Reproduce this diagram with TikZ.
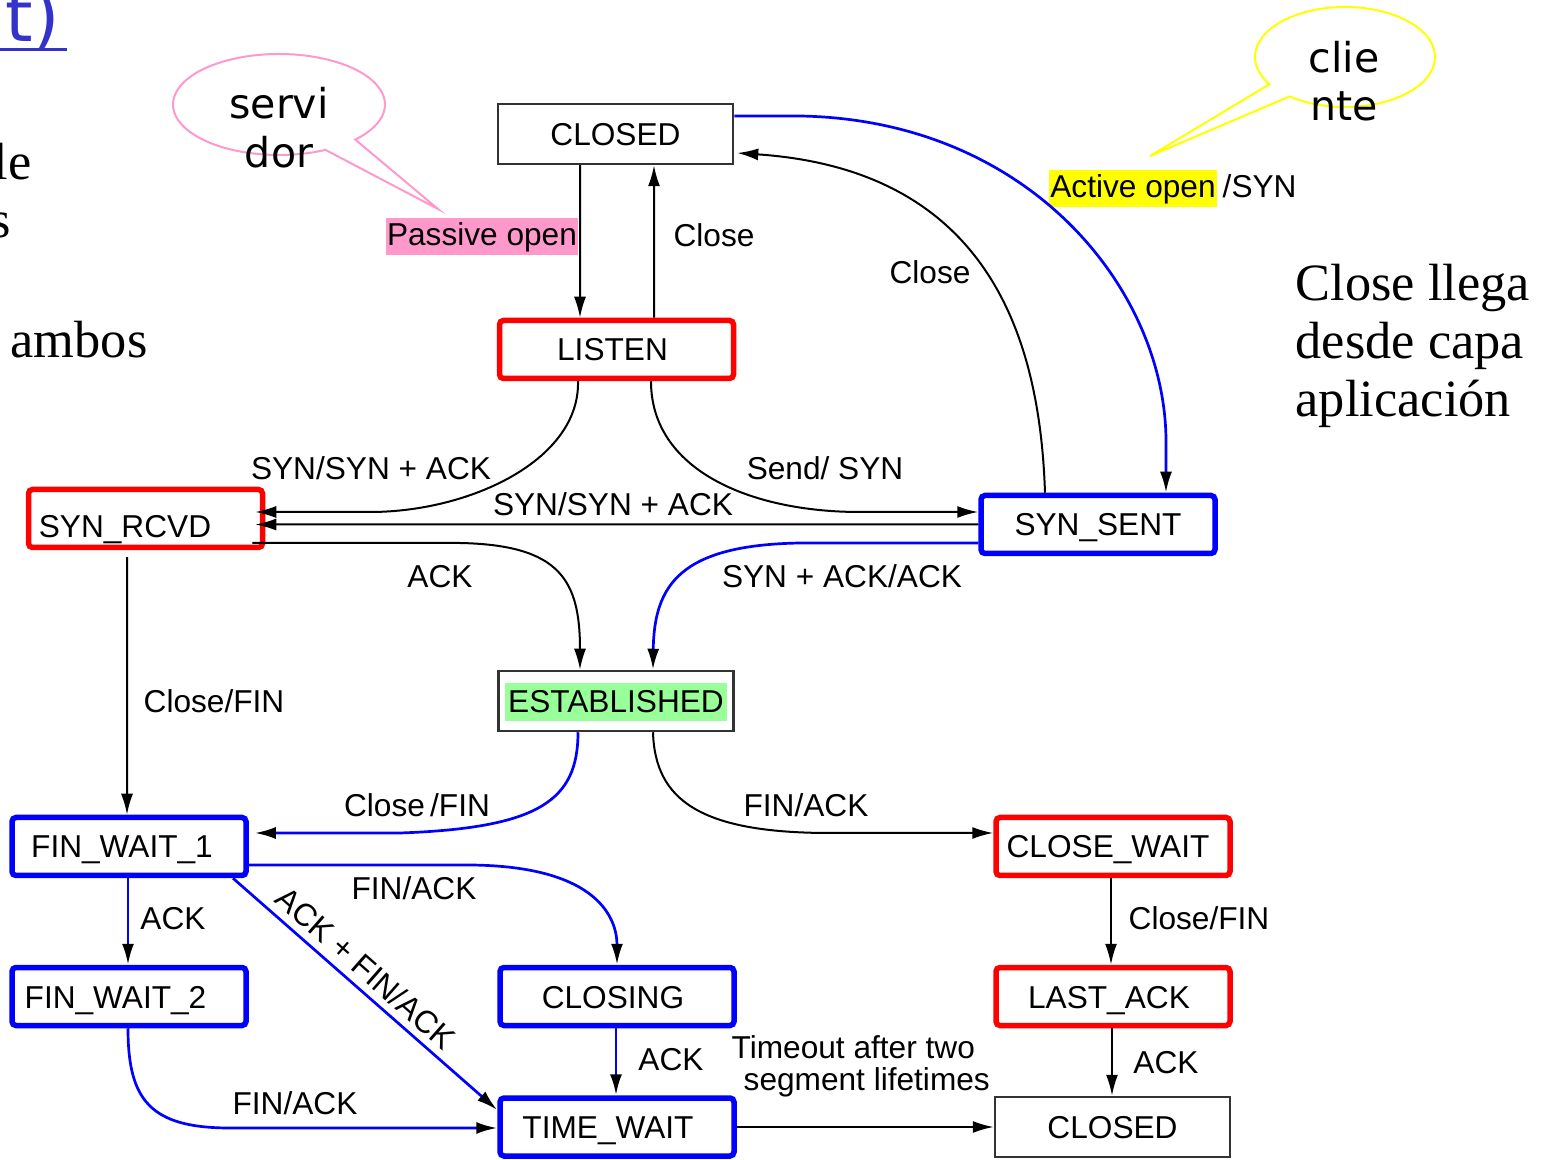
\documentclass[tikz,border=0pt]{standalone}
\usepackage{fontspec}
\setmainfont{Liberation Sans}
\newfontfamily\serifT{Liberation Serif}
\newfontfamily\bubbleT{DejaVu Sans}
\usetikzlibrary{arrows.meta}
\definecolor{stred}{RGB}{255,0,0}
\definecolor{stblue}{RGB}{0,0,255}
\definecolor{pinkbg}{RGB}{255,153,204}
\definecolor{yellowbg}{RGB}{255,255,0}
\definecolor{estgreen}{RGB}{153,255,153}
\definecolor{titleblue}{RGB}{51,51,204}
\newcommand{\pad}[1]{\rule{#1}{0pt}}

\begin{document}
\begin{tikzpicture}[x=0.1mm,y=-0.1mm,
	every node/.style={inner sep=0pt, font=\fontsize{9}{10.4}\selectfont},
	stbox/.style={draw, rectangle, text height=2.3mm, text depth=0mm},
	thinstate/.style={stbox, draw=black!80, line width=0.25mm, minimum width=23.5mm, minimum height=6mm},
	redstate/.style={stbox, draw=stred, line width=0.55mm, minimum width=23.4mm, minimum height=5.8mm, rounded corners=0.4mm},
	bluestate/.style={stbox, draw=stblue, line width=0.55mm, minimum width=23.4mm, minimum height=5.8mm, rounded corners=0.4mm},
	hl/.style={inner xsep=0.1mm, inner ysep=0.2mm, text height=2.55mm, text depth=0.75mm},
	lbl/.style={anchor=base},
	blk/.style={draw=black, line width=0.2mm, -{Latex[length=2.1mm,width=1.2mm]}},
	blu/.style={draw=stblue, line width=0.27mm, -{Latex[length=2.1mm,width=1.2mm,color=black]}}]
	\useasboundingbox (0,0) rectangle (1548,1160);
	
	%slide text
	\node[anchor=base east, text=titleblue, font=\bubbleT\fontsize{20}{24}\selectfont] (TTL) at (61,42) {t)};
	\draw[titleblue, line width=0.3mm] (0,50) -- (67,50);
	\node[anchor=base east, font=\serifT\fontsize{14.9}{16.6}\selectfont] (W1) at (32,180) {le};
	\node[anchor=base east, font=\serifT\fontsize{14.9}{16.6}\selectfont] (W2) at (12,238) {s};
	\node[anchor=base west, font=\serifT\fontsize{14.9}{16.6}\selectfont] (W3) at (10,358) {ambos};
	\node[anchor=north west, align=left, font=\serifT\fontsize{14.9}{16.6}\selectfont] (NOTE) at (1295,263) {Close llega\\desde capa\\aplicación};
	
	%bubbles
	\draw[pinkbg, line width=0.2mm] ([shift={(64:106 and 50.5)}]279,104.5) arc[start angle=64, end angle=404, x radius=106, y radius=50.5] -- (438,209) -- cycle;
	\node[anchor=north, align=center, font=\bubbleT\fontsize{11.7}{13.9}\selectfont] (SRV) at (279,87) {servi\\dor};
	\draw[yellowbg, line width=0.2mm] ([shift={(147:90 and 50)}]1345,57) arc[start angle=147, end angle=488, x radius=90, y radius=50] -- (1150,156) -- cycle;
	\node[anchor=north, align=center, font=\bubbleT\fontsize{11.7}{13.6}\selectfont] (CLI) at (1344,41) {clie\\nte};
	
	%states
	\node[thinstate] (CLOSEDa) at (615.5,134) {CLOSED};
	\node[redstate] (LISTEN) at (616.5,349.5) {LISTEN\pad{0.8mm}};
	\node[redstate] (SRCVD) at (145.5,518.5) {\raisebox{-0.75mm}{SYN\_RCVD}\pad{4.1mm}};
	\node[bluestate] (SSENT) at (1098,524.5) {SYN\_SENT};
	\node[thinstate] (EST) at (616,701) {\setlength{\fboxsep}{0.3mm}\colorbox{estgreen}{\rule[-0.6mm]{0pt}{3.2mm}ESTABLISHED}};
	\node[bluestate] (FWa) at (129,846.5) {FIN\_WAIT\_1\pad{1.4mm}};
	\node[redstate] (CW) at (1113,846.5) {CLOSE\_WAIT\pad{1mm}};
	\node[bluestate] (FWb) at (129,996.5) {FIN\_WAIT\_2\pad{2.7mm}};
	\node[bluestate] (CLSG) at (617,996.5) {CLOSING\pad{0.8mm}};
	\node[redstate] (LA) at (1113,996.5) {LAST\_ACK\pad{0.8mm}};
	\node[bluestate] (TW) at (617,1127) {TIME\_WAIT\pad{1.8mm}};
	\node[thinstate] (CLOSEDb) at (1112.5,1127) {CLOSED};
	
	%labels
	\node[hl, fill=pinkbg] (PASSIVE) at (482,236.5) {Passive open};
	\node[hl, fill=yellowbg] (ACTIVE) at (1133,188.5) {Active open};
	\node[anchor=base west] (T0) at (1222,198) {/SYN};
	\node[lbl] (T1) at (714,247) {Close};
	\node[lbl] (T2) at (930,284) {Close};
	\node[lbl] (T3) at (371,480) {SYN/SYN + ACK};
	\node[lbl] (T4) at (825,480) {Send/ SYN};
	\node[lbl] (T5) at (613,516) {SYN/SYN + ACK};
	\node[lbl] (T6) at (440,588) {ACK};
	\node[lbl] (T7) at (842,588) {SYN + ACK/ACK};
	\node[lbl] (T8) at (214,712) {Close/FIN};
	\node[lbl] (T9) at (417,817) {Close\,/FIN};
	\node[lbl] (T10) at (806,817) {FIN/ACK};
	\node[lbl] (T11) at (414,900) {FIN/ACK};
	\node[lbl] (T12) at (173,930) {ACK};
	\node[lbl] (T13) at (1199,930) {Close/FIN};
	\node[rotate=-41.3] (T14) at (366,968) {ACK + FIN/ACK};
	\node[lbl] (T15) at (671,1070) {ACK};
	\node[anchor=north west, align=left, font=\fontsize{9}{9.1}\selectfont] (T16) at (731,1035) {Timeout after two\\\hspace{1.2mm}segment lifetimes};
	\node[lbl] (T17) at (1166,1073) {ACK};
	\node[lbl] (T18) at (295,1114) {FIN/ACK};
	
	%transitions
	\draw[blk] ([xshift=-3.55mm]CLOSEDa.south) -- ([xshift=-3.65mm]LISTEN.north);
	\draw[blk] ([xshift=3.75mm]LISTEN.north) -- ([xshift=3.85mm]CLOSEDa.south);
	\draw[blu] ([yshift=1.8mm]CLOSEDa.east) -- (800,116) .. controls (1030,120) and (1165,290) .. (1166,440) -- ([xshift=6.8mm]SSENT.north);
	\draw[blk] ([xshift=-5.3mm]SSENT.north) .. controls (1040,340) and (990,170) .. ([xshift=0.3mm,yshift=-1.9mm]CLOSEDa.east);
	\draw[blk] ([xshift=-3.85mm]LISTEN.south) .. controls (580,460) and (470,512) .. (370,512) -- ([xshift=-1mm,yshift=0.65mm]SRCVD.east);
	\draw[blk] ([xshift=3.45mm]LISTEN.south) .. controls (651,470) and (750,512) .. (860,512) -- ([yshift=1.25mm]SSENT.west);
	\draw[blk] (SSENT.west) -- ([xshift=-1mm,yshift=-0.6mm]SRCVD.east);
	\draw[blk] ([xshift=-1.3mm,yshift=-2.45mm]SRCVD.east) -- (460,543) .. controls (560,545) and (580,580) .. ([xshift=-3.6mm]EST.north);
	\draw[blu] ([yshift=-1.85mm]SSENT.west) -- (800,543) .. controls (680,545) and (654,585) .. ([xshift=3.7mm]EST.north);
	\draw[blk] ([xshift=-1.85mm,yshift=-0.7mm]SRCVD.south) -- ([xshift=-0.2mm]FWa.north);
	\draw[blu] ([xshift=-3.8mm]EST.south) .. controls (578,800) and (540,828) .. (400,833) -- ([xshift=0.6mm,yshift=1.35mm]FWa.east);
	\draw[blk] ([xshift=3.7mm]EST.south) .. controls (655,800) and (700,833) .. (830,833) -- ([yshift=1.35mm]CW.west);
	\draw[blu] ([yshift=-1.85mm]FWa.east) -- (470,865) .. controls (600,866) and (617,920) .. (CLSG.north);
	\draw[blu] ([xshift=-0.1mm]FWa.south) -- ([xshift=-0.1mm]FWb.north);
	\draw[blu] ([xshift=10.4mm]FWa.south) -- ([yshift=1.7mm]TW.west);
	\draw[blk] ([xshift=-0.2mm]CW.south) -- ([xshift=-0.2mm]LA.north);
	\draw[blu] ([xshift=-0.1mm]FWb.south) .. controls (128,1100) and (150,1128) .. (230,1128) -- ([yshift=-0.1mm]TW.west);
	\draw[blu] ([xshift=-0.1mm]CLSG.south) -- ([xshift=-0.1mm]TW.north);
	\draw[blk] ([xshift=-0.1mm]LA.south) -- ([xshift=-0.05mm]CLOSEDb.north);
	\draw[blk] (TW.east) -- (CLOSEDb.west);
	
\end{tikzpicture}
\end{document}
